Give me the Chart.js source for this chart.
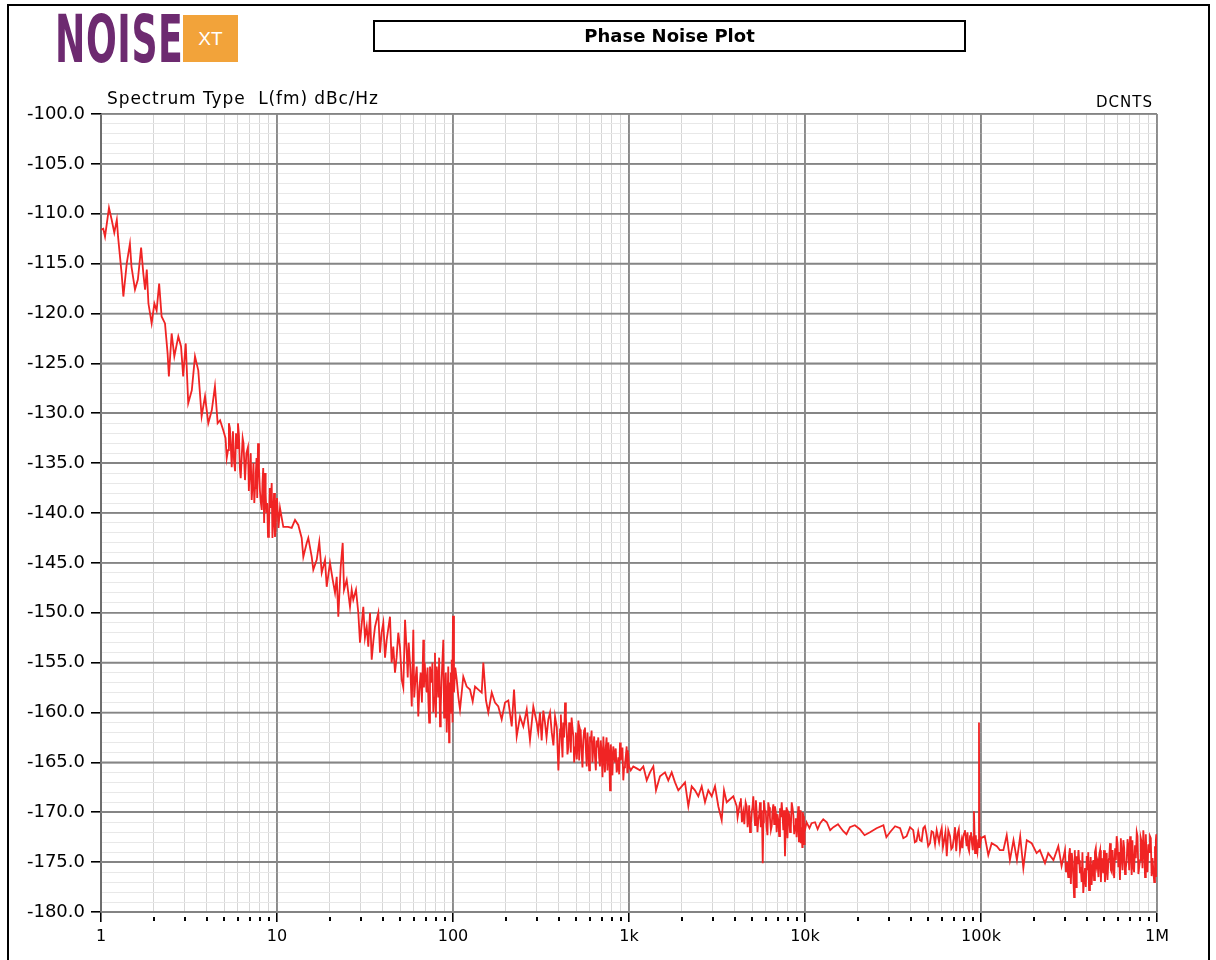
<!DOCTYPE html>
<html>
<head>
<meta charset="utf-8">
<script src="https://cdn.jsdelivr.net/npm/chart.js@4.4.0/dist/chart.umd.min.js"></script>
<style>
  body { margin: 0; background: #fff; }
  #wrap { position: relative; width: 1216px; height: 960px; overflow: hidden; background: #fff; }
  #frame { position: absolute; left: 7px; top: 4px; width: 1203px; height: 1000px; border: 2px solid #000; box-sizing: border-box; }
  #chart { position: absolute; left: 0; top: 0; }
  #logo { position: absolute; left: 55px; top: 1px; font-family: "DejaVu Sans Condensed", "Liberation Sans Narrow", sans-serif; font-weight: bold; font-size: 66px; color: #6d2a70; transform-origin: left top; transform: scaleX(0.61); letter-spacing: 1px; white-space: nowrap; }
  #xt { position: absolute; left: 183px; top: 15px; width: 55px; height: 47px; background: #f2a33a; color: #fff; font-family: "Liberation Sans", sans-serif; font-size: 19px; text-align: center; line-height: 47px; }
  #title { position: absolute; left: 373px; top: 20px; width: 593px; height: 32px; border: 2px solid #000; box-sizing: border-box; font-family: "DejaVu Sans", sans-serif; font-weight: bold; font-size: 18px; text-align: center; line-height: 27px; }
  #spec { position: absolute; left: 107px; top: 88px; font-family: "DejaVu Sans", sans-serif; font-size: 17px; letter-spacing: 0.9px; white-space: nowrap; }
  #dcnts { position: absolute; right: 63px; top: 93px; font-family: "DejaVu Sans", sans-serif; font-size: 15px; letter-spacing: 1px; }
</style>
</head>
<body>
<div id="wrap">
  <div id="frame"></div>
  <canvas id="chart" width="1216" height="960"></canvas>
  <div id="logo">NOISE</div>
  <div id="xt">XT</div>
  <div id="title">Phase Noise Plot</div>
  <div id="spec">Spectrum Type&nbsp; L(fm) dBc/Hz</div>
  <div id="dcnts">DCNTS</div>
</div>
<script>
// offset frequency (Hz) / L(fm) dBc/Hz, one list per decade
const decade1 = [
  [1.0,-111.6],[1.03,-111.5],[1.054,-112.3],[1.11,-109.4],[1.15,-110.6],[1.19,-111.9],[1.23,-110.6],[1.25,-112.3],
  [1.31,-116],[1.34,-118.3],[1.40,-115],[1.46,-113],[1.49,-115.3],[1.56,-117.6],[1.62,-116.6],[1.69,-113.4],
  [1.74,-116],[1.78,-117.6],[1.82,-115.6],[1.86,-119],[1.94,-121],[2.01,-119],[2.07,-119.7],[2.14,-117],
  [2.21,-120.3],[2.31,-121],[2.39,-124],[2.43,-126.3],[2.52,-122],[2.61,-124.3],[2.75,-122.3],[2.85,-123.3],
  [2.93,-126.3],[3.03,-123],[3.13,-129],[3.28,-127.7],[3.42,-124.3],[3.57,-125.7],[3.73,-130.3],[3.90,-128.3],
  [4.07,-131],[4.26,-129.7],[4.44,-127.3],[4.60,-131],[4.75,-130.7],[4.95,-131.7],[5.1,-132.5],[5.27,-133.7],
  [5.4,-131.5],[5.53,-135.4],[5.7,-134.8],[5.85,-132],[6.0,-131],[6.15,-135.5],[6.3,-134.4],[6.45,-133],
  [6.58,-136.7],[6.84,-133.4],[7.0,-136],[7.18,-138.7],[7.35,-135],[7.5,-137.5],[7.65,-134.5],[7.8,-133],
  [8.0,-137.8],[8.19,-139.7],[8.35,-135.5],[8.55,-136],[8.7,-140],[8.89,-142.4],[9.1,-137.5],[9.33,-137],
  [9.5,-141],[9.74,-142.4],[9.9,-139.5],
  [5.18,-134.5],[5.33,-131],[5.47,-133.5],[5.62,-131.8],[5.78,-135.8],[5.93,-133.5],[6.08,-132.2],[6.22,-136.5],
  [6.38,-132.5],[6.52,-135],[6.7,-134],[6.92,-137.8],[7.09,-134],[7.27,-137],[7.43,-139],[7.58,-136],
  [7.72,-138.5],[7.9,-135.5],[8.1,-139],[8.27,-137],[8.45,-141],[8.62,-138],[8.8,-139],[9.0,-141.5],
  [9.2,-139.5],[9.42,-142.5],[9.62,-138],[9.82,-141.8]
];
const decade2 = [
  [10.0,-138.5],[10.2,-141.5],[10.4,-139.5],[10.86,-141.4],[11.55,-141.4],[12.12,-141.5],[12.66,-140.7],[13.21,-141.2],
  [13.81,-142.5],[14.11,-144.4],[14.75,-143],[15.06,-142.5],[15.75,-144.4],[16.08,-145.7],[16.81,-144.7],[17.39,-142.9],
  [17.95,-146],[18.74,-144.7],[19.16,-147.4],[20.0,-145],[20.73,-146.7],[21.36,-148],[21.84,-146.4],[22.3,-150.4],
  [23.01,-145.4],[23.62,-143],[24.03,-147.7],[24.89,-146.7],[25.99,-149.4],[26.57,-147.7],[27.13,-148.7],[28.11,-147.7],
  [28.97,-150],[29.62,-153],[30.93,-149.4],[32.34,-151.4],[33.02,-153.4],[33.76,-150],[34.52,-154.7],[36.05,-151.4],
  [37.64,-150],[38.48,-154],[40.18,-151],[42.01,-152.7],[43.85,-150.4],[45.79,-153.4],[46.82,-156],[48.88,-152],
  [51.1,-156.7],[53.4,-150.7],[54.6,-154],[56,-153],[58.3,-159.4],[59.5,-151.7],[61,-157],[62.2,-155.4],
  [63.5,-160.4],[65.5,-156],[67.8,-152.7],[69,-155],[70.9,-158],[72.5,-159],[74,-155.4],[75.5,-157],
  [77.3,-160],[79,-154],[80.8,-155.4],[82.5,-158.5],[84.4,-161.4],[86,-157],[88.1,-152.7],[90,-158],
  [92.1,-162],[94,-155.4],[95,-163],[96.2,-160],[97.2,-156],[98.3,-154.7],[99.2,-161],[100,-150.3],
  [31.6,-152.5],[35.3,-152.8],[39.3,-152],[41.1,-154.5],[44.8,-155],[47.8,-154.5],[50,-153.5],[52.2,-157.5],
  [55.3,-156.5],[57.2,-155.5],[60.2,-158.5],[64.5,-157.5],[66.6,-159],[68.4,-157.5],[71.7,-155.5],[73.2,-161],
  [76.4,-155],[78.1,-158.5],[79.9,-160.5],[81.7,-156.5],[83.4,-154.5],[85.2,-159.5],[87,-155],[89,-160.5],
  [91,-156],[93,-159],[95.6,-157],[97.7,-159.5],[98.8,-157.5],[99.6,-155.5]
];
const decade3 = [
  [101.3,-158],[103,-155.5],[105,-156.7],[107.2,-158.4],[109.6,-159.7],[114.4,-156.4],[119.6,-157.4],[124.9,-157.7],
  [129.4,-158.9],[133.4,-157.4],[139.3,-157.7],[145.6,-158],[148.7,-155],[154,-158.8],[158.7,-160],[166,-158],
  [173.2,-159],[180.9,-159.4],[189.1,-160.7],[197.5,-159],[206.2,-158.8],[215.6,-161.4],[222.2,-157.7],[230.1,-162.4],
  [240.3,-160.4],[250.9,-161.4],[262.4,-159.7],[273.8,-162.8],[286,-159.4],[299,-161],[312,-160],[319,-162.8],
  [333,-161],[348,-160.7],[364,-162],[380,-160.4],[397,-165.8],[406,-161.7],[415,-163],[423,-161],
  [433,-159],[443,-162],[452,-163.5],[462,-161.7],[472,-160.5],[483,-162.4],[494,-163.5],[505,-164.7],
  [516,-160.8],[527,-161.7],[538,-164],[550,-162.8],[562,-161.5],[575,-165.4],[588,-164],[600,-162.4],
  [613,-161.8],[627,-163.4],[641,-164.5],[655,-162.8],[669,-162.5],[684,-165.4],[699,-164],[715,-162.4],
  [730,-166],[746,-162.5],[763,-163],[780,-167.8],[797,-164.5],[814,-163.4],[832,-165],[851,-166],
  [870,-164.5],[889,-163],[908,-164],[928,-166.8],[949,-165.2],[970,-163.4],[985,-163.8],[1000,-165.4],
  [305,-162],[326,-159.8],[340,-162.5],[356,-160],[372,-163.3],[389,-161.5],[401,-163.8],[410,-160.2],
  [419,-164.5],[428,-162.5],[438,-160.5],[447,-164.2],[457,-161],[467,-164],[477,-161.5],[488,-165],
  [499,-162],[510,-163],[521,-164.8],[532,-162],[544,-165.5],[556,-161.8],[569,-163.8],[581,-162],
  [594,-165.8],[606,-163],[620,-165],[634,-162.4],[648,-165.8],[662,-163.5],[676,-164.5],[691,-162.8],
  [707,-166.5],[722,-164.2],[738,-163.5],[754,-165.8],[771,-164],[788,-163.2],[805,-166.3],[823,-164],
  [841,-163.6],[860,-165.5],[879,-166.2],[898,-164.8],[918,-163.5],[938,-165.5],[959,-164.4],[978,-166],
  [993,-164.6]
];
const decade4 = [
  [1023,-165.8],[1058,-165.4],[1106,-165.6],[1155,-165.8],[1206,-165.4],[1261,-166.8],[1316,-166],[1375,-165.4],
  [1424,-167.8],[1500,-166.4],[1601,-166],[1672,-166.8],[1748,-166],[1826,-167],[1906,-167.8],[1993,-167.4],
  [2081,-167],[2173,-169.4],[2271,-167.4],[2371,-167.8],[2477,-168.4],[2589,-167.4],[2703,-169],[2822,-167.8],
  [2951,-168.4],[3081,-167.4],[3217,-169.4],[3363,-170.8],[3466,-167.8],[3591,-169],[3749,-168.7],[3914,-168.4],
  [4092,-169.4],[4273,-169],[4380,-171],[4461,-170],[4665,-169.4],[4770,-170.6],[4870,-172],[4980,-170],
  [5085,-168.4],[5200,-171.3],[5317,-170],[5430,-170.8],[5551,-169],[5752,-175.1],[5840,-168.8],[5927,-170],
  [6050,-171.5],[6186,-169],[6320,-170.5],[6468,-171.4],[6610,-169.2],[6752,-169.4],[6900,-172],[7051,-170.8],
  [7210,-169.6],[7373,-169],[7530,-171.8],[7697,-174.4],[7860,-169.5],[8036,-170],[8220,-172],[8404,-169],
  [8590,-170.3],[8774,-171.4],[8960,-172.5],[9161,-169.4],[9300,-170.6],[9454,-173.1],[9600,-172.5],[9703,-170],
  [9870,-170.8],[9950,-172],
  [4140,-170.5],[4320,-168.6],[4520,-171.2],[4600,-169],[4720,-171.5],[4820,-169.3],[4930,-171.2],[5030,-169.5],
  [5140,-170],[5260,-168.8],[5370,-172],[5490,-170.3],[5610,-171.5],[5690,-169.8],[5800,-171],[5980,-169.8],
  [6120,-172.3],[6250,-169.5],[6400,-171.8],[6540,-169.8],[6680,-171.2],[6830,-170],[6970,-170.2],[7130,-172.4],
  [7290,-170.5],[7450,-170.2],[7610,-169.8],[7780,-171],[7950,-172.6],[8130,-170.2],[8310,-171.5],[8500,-169.6],
  [8680,-172.2],[8870,-170.6],[9060,-171],[9230,-173],[9380,-169.8],[9530,-171.5],[9650,-173.5],[9790,-170.4],
  [9910,-173.2]
];
const decade5 = [
  [10200,-171],[10600,-171.6],[10900,-171.1],[11400,-171],[11800,-171.7],[12200,-171.1],[12700,-170.7],[13300,-171],
  [13900,-171.8],[14500,-171.5],[15400,-171.2],[16500,-171.9],[17200,-172.2],[18000,-171.5],[19200,-171.3],[20500,-171.7],
  [21800,-172.3],[23400,-172],[25500,-171.6],[27900,-171.3],[29000,-172.5],[30400,-172],[32500,-171.4],[34700,-171.6],
  [36200,-172.6],[37800,-172.4],[39500,-171.5],[41200,-171.8],[43000,-172.9],[45000,-172.8],[47000,-171.6],[49000,-172.2],
  [51300,-173.1],[53500,-172],[56000,-171.8],[57800,-173],[59800,-171.6],[61800,-172.8],[63900,-174.4],[65200,-171.8],
  [66700,-172.4],[69000,-173.5],[71200,-171.5],[73500,-172.2],[76000,-173.8],[77600,-172.8],[79300,-172.4],[81000,-171.8],
  [82900,-173.4],[84700,-173.6],[86600,-172.4],[88700,-173],[91200,-169.9],[92500,-174.1],[94200,-173.4],[96500,-172.8],
  [97400,-161],[98700,-172.4],
  [42100,-173],[44000,-171.9],[46000,-172.9],[48000,-171.4],[50100,-173.4],[52400,-171.9],[54800,-173.2],[58800,-172.1],
  [60800,-173.5],[62800,-172],[67800,-173.7],[70100,-172.6],[72300,-173.9],[74800,-171.7],[78500,-173.6],[80200,-172.1],
  [83800,-172],[85600,-173.9],[87700,-172],[89800,-173.8],[90500,-172.5],[93400,-172.3],[95400,-174],[97900,-173.5],
  [99400,-173]
];
const decade6 = [
  [100000,-172.6],[105000,-172.4],[110000,-174.3],[115000,-173.1],[123000,-173.4],[128000,-173.8],[134000,-173.8],[140000,-172.3],
  [146000,-174.8],[153000,-172.8],[160000,-174.8],[167000,-172.4],[174000,-175.6],[182000,-172.8],[194000,-173.1],[207000,-174.1],
  [216000,-173.8],[231000,-175.1],[241000,-174.1],[258000,-174.8],[275000,-173.4],[287000,-175.4],[300000,-173.8],[308000,-175],
  [313000,-176.5],[320000,-173.6],[328000,-174.1],[338000,-178.5],[344000,-175.8],[350000,-174.4],[358000,-173.8],[365000,-176.1],
  [373000,-177],[381000,-178.1],[390000,-175.6],[399000,-174.4],[407000,-174],[416000,-176.1],[425000,-177.3],[435000,-174.8],
  [444000,-174],[454000,-175.4],[465000,-176.5],[475000,-173.8],[485000,-174.6],[495000,-176.1],[506000,-177],[518000,-174.1],
  [529000,-175],[541000,-173.1],[553000,-176],[565000,-175.4],[578000,-173.6],[590000,-172.4],[603000,-175.5],[616000,-176.8],
  [630000,-174.3],[644000,-172.8],[658000,-176.2],[673000,-174.8],[688000,-173.4],[703000,-172.4],[718000,-176.3],[733000,-175.4],
  [750000,-173.3],[767000,-172],[784000,-176.2],[801000,-174.8],[818000,-173],[836000,-171.8],[855000,-176.5],[874000,-175.1],
  [893000,-173.2],[912000,-172.4],[932000,-176.4],[953000,-175.8],[974000,-173.4],[985000,-172.8],[996000,-176.5],
  [304000,-176],[316000,-174.4],[324000,-177.2],[332000,-175],[341000,-173.8],[347000,-177.5],[354000,-175.2],[361000,-174.8],
  [369000,-175.5],[377000,-174],[385000,-176.8],[394000,-177.5],[403000,-175.8],[411000,-177.8],[420000,-174.5],[430000,-175.5],
  [439000,-176.8],[449000,-173.6],[459000,-175],[470000,-174.2],[480000,-177],[490000,-175.2],[500000,-173.8],[512000,-175.6],
  [523000,-176.8],[535000,-174.5],[547000,-175.8],[559000,-173.8],[571000,-176.6],[584000,-174.8],[597000,-173.2],[609000,-174],
  [623000,-172.6],[637000,-175.8],[651000,-173.6],[665000,-175.6],[680000,-172.7],[695000,-175.8],[710000,-173.8],[725000,-172.8],
  [741000,-176],[758000,-174.6],[775000,-172.4],[792000,-175.5],[809000,-172.6],[827000,-175.6],[845000,-173.2],[864000,-172.2],
  [883000,-176],[902000,-174],[922000,-172.6],[943000,-174.6],[964000,-177],[980000,-174.5],[991000,-172.2],[1000000,-175]
];

// axis ticks
const decades = [1, 10, 100, 1000, 10000, 100000, 1000000];
const decadeLabels = ['1', '10', '100', '1k', '10k', '100k', '1M'];
const mantissas = [1, 2, 3, 4, 5, 6, 7, 8, 9];
const yMin = -180, yMax = -100, yMajorStep = 5;

const trace = [].concat(decade1, decade2, decade3, decade4, decade5, decade6)
  .sort((a, b) => a[0] - b[0])
  .map(p => ({x: p[0], y: p[1]}));

const xTicks = [];
decades.forEach(d => {
  if (d === 1000000) { xTicks.push(d); return; }
  mantissas.forEach(m => xTicks.push(d * m));
});
const yTicks = [];
for (let v = yMin; v <= yMax; v++) yTicks.push(v);

const isDecade = v => decades.indexOf(v) !== -1;
const isMajorY = v => v % yMajorStep === 0;

// majors drawn again over the light minor lines, and short minor ticks under the x axis
const gridFix = {
  id: 'gridFix',
  beforeDatasetsDraw(chart) {
    const ctx = chart.ctx, xs = chart.scales.x, ys = chart.scales.y, a = chart.chartArea;
    ctx.save();
    ctx.lineWidth = 1.6;
    ctx.strokeStyle = '#858585';
    yTicks.filter(isMajorY).forEach(v => {
      const py = ys.getPixelForValue(v);
      ctx.beginPath(); ctx.moveTo(a.left, py); ctx.lineTo(a.right, py); ctx.stroke();
    });
    ctx.strokeStyle = '#8a8a8a';
    decades.forEach(v => {
      const px = xs.getPixelForValue(v);
      ctx.beginPath(); ctx.moveTo(px, a.top); ctx.lineTo(px, a.bottom); ctx.stroke();
    });
    ctx.restore();
  },
  afterDraw(chart) {
    const ctx = chart.ctx, xs = chart.scales.x, bottom = chart.chartArea.bottom;
    ctx.save();
    ctx.strokeStyle = '#000';
    ctx.lineWidth = 2;
    xTicks.forEach(v => {
      if (isDecade(v)) return;
      const px = Math.round(xs.getPixelForValue(v));
      ctx.beginPath();
      ctx.moveTo(px, bottom + 5);
      ctx.lineTo(px, bottom + 9);
      ctx.stroke();
    });
    ctx.restore();
  }
};

new Chart(document.getElementById('chart'), {
  type: 'line',
  data: {
    datasets: [{
      data: trace,
      borderColor: '#f02424',
      borderWidth: 1.8,
      pointRadius: 0,
      tension: 0
    }]
  },
  options: {
    responsive: false,
    animation: false,
    layout: { padding: { top: 114, right: 59, bottom: 8, left: 0 } },
    plugins: { legend: { display: false }, tooltip: { enabled: false } },
    scales: {
      x: {
        type: 'logarithmic',
        min: 1,
        max: 1000000,
        afterBuildTicks: axis => { axis.ticks = xTicks.map(v => ({value: v})); },
        afterFit: s => { s.height = 40; },
        ticks: {
          autoSkip: false,
          maxRotation: 0,
          padding: 5,
          color: '#000',
          font: { family: 'DejaVu Sans', size: 16 },
          callback: v => isDecade(v) ? decadeLabels[decades.indexOf(v)] : ''
        },
        grid: {
          color: c => isDecade(c.tick.value) ? '#8a8a8a' : '#d6d6d6',
          lineWidth: c => isDecade(c.tick.value) ? 1.6 : 1,
          tickLength: 10,
          tickColor: c => isDecade(c.tick.value) ? '#000' : 'rgba(0,0,0,0)'
        },
        border: { color: '#808080', width: 2 }
      },
      y: {
        type: 'linear',
        min: yMin,
        max: yMax,
        afterBuildTicks: axis => { axis.ticks = yTicks.map(v => ({value: v})); },
        afterFit: s => { s.width = 101; },
        ticks: {
          autoSkip: false,
          padding: 6,
          color: '#000',
          font: { family: 'DejaVu Sans', size: 18 },
          callback: v => isMajorY(v) ? v.toFixed(1) : ''
        },
        grid: {
          z: -1,
          color: c => isMajorY(c.tick.value) ? '#858585' : '#e8e8e8',
          lineWidth: c => isMajorY(c.tick.value) ? 1.6 : 1,
          tickLength: 10,
          tickColor: c => isMajorY(c.tick.value) ? '#000' : 'rgba(0,0,0,0)'
        },
        border: { color: '#000', width: 2 }
      }
    }
  },
  plugins: [gridFix]
});
</script>
</body>
</html>
